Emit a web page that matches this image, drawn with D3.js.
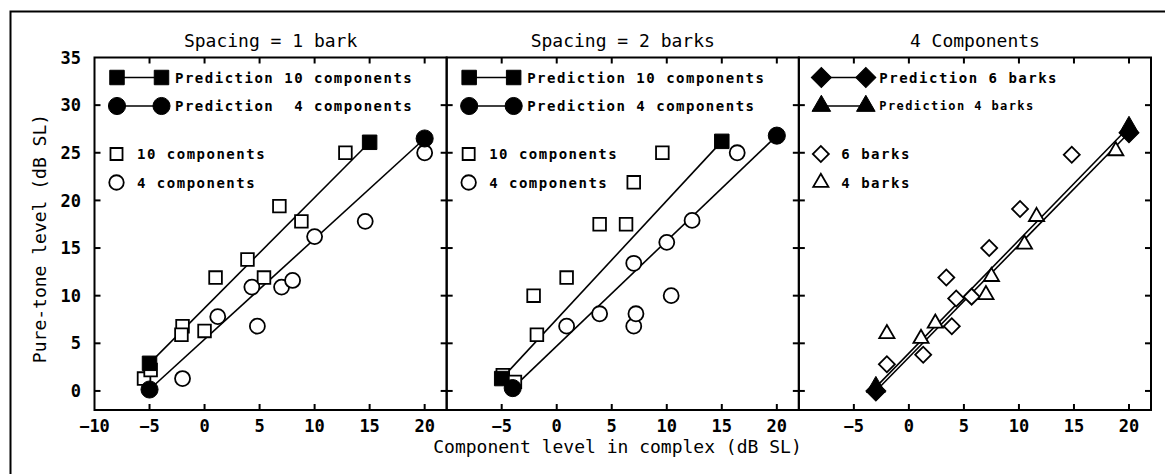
<!DOCTYPE html>
<html>
<head>
<meta charset="utf-8">
<script src="https://cdn.jsdelivr.net/npm/d3@7"></script>
<style>
  body { margin: 0; background: #fff; }
  svg { display: block; }
  text { font-family: "DejaVu Sans Mono", monospace; fill: #000; white-space: pre; }
</style>
</head>
<body>
<div id="chart"></div>
<script>
// panel titles
const titles = ["Spacing = 1 bark", "Spacing = 2 barks", "4 Components"];

// x ticks / y ticks
const xTicks = [-10, -5, 0, 5, 10, 15, 20];
const yTicks = [0, 5, 10, 15, 20, 25, 30, 35];

// panel 1: spacing = 1 bark
const p1Pred10 = [[-5, 2.9], [15, 26.1]];
const p1Pred4 = [[-5, 0.15], [20, 26.5]];
const p1Obs10 = [[-5.5, 1.3], [-4.9, 2.2], [-2, 6.8], [-2.1, 5.9], [0, 6.3], [1, 11.9],
  [3.9, 13.8], [5.4, 11.9], [6.8, 19.4], [8.8, 17.8], [12.8, 25]];
const p1Obs4 = [[-2, 1.3], [1.2, 7.8], [4.3, 10.9], [4.8, 6.8], [7, 10.9], [8, 11.6],
  [10, 16.2], [14.6, 17.8], [20, 25]];

// panel 2: spacing = 2 barks
const p2Pred10 = [[-5, 1.3], [15, 26.2]];
const p2Pred4 = [[-4, 0.3], [20, 26.8]];
const p2Obs10 = [[-4.9, 1.65], [-3.8, 0.95], [-1.8, 5.9], [-2.1, 10], [0.9, 11.9],
  [3.9, 17.5], [6.3, 17.5], [7, 21.9], [9.6, 25]];
const p2Obs4 = [[0.9, 6.8], [3.9, 8.1], [7, 6.8], [7.2, 8.1], [7, 13.4], [10, 15.6],
  [10.4, 10], [12.3, 17.9], [16.4, 25]];

// panel 3: 4 components
const p3Pred6 = [[-3, 0], [20, 27.1]];
const p3Pred4 = [[-3, 0.4], [20, 27.7]];
const p3Obs6 = [[-2, 2.8], [1.3, 3.8], [3.4, 11.9], [3.9, 6.8], [4.3, 9.7], [5.7, 9.9],
  [7.3, 15], [10.1, 19.1], [14.8, 24.8]];
const p3Obs4 = [[-2, 6], [1.1, 5.5], [2.4, 7.1], [7, 10.1], [7.5, 12], [10.5, 15.4],
  [11.6, 18.3], [18.8, 25.2]];

const W = 1165, H = 474;
const plotLeft = 94.5, plotRight = 1151, plotTop = 57.5, plotBottom = 410;
const pw = (plotRight - plotLeft) / 3;

const svg = d3.select("#chart").append("svg").attr("width", W).attr("height", H);

// outer frame (left and top only visible)
svg.append("path").attr("d", `M10.5,${H}V11.5H${W}`)
  .attr("fill", "none").attr("stroke", "#000").attr("stroke-width", 2);

const sym = {
  square: (s) => d3.symbol(d3.symbolSquare, s)(),
  circle: (s) => d3.symbol(d3.symbolCircle, s)(),
  diamond: (s) => d3.symbol(d3.symbolSquare, s)(),
  triangle: (s) => d3.symbol(d3.symbolTriangle, s)()
};

const panels = [
  {
    preds: [{ pts: p1Pred10, shape: "square", size: 210 }, { pts: p1Pred4, shape: "circle", size: 230 }],
    obs: [{ pts: p1Obs10, shape: "square", size: 160 }, { pts: p1Obs4, shape: "circle", size: 177 }],
    legend: [
      { kind: "pred", shape: "square", size: 210, text: "Prediction 10 components" },
      { kind: "pred", shape: "circle", size: 230, text: "Prediction  4 components" },
      { kind: "obs", shape: "square", size: 145, text: "10 components" },
      { kind: "obs", shape: "circle", size: 165, text: "4 components" }
    ]
  },
  {
    preds: [{ pts: p2Pred10, shape: "square", size: 210 }, { pts: p2Pred4, shape: "circle", size: 230 }],
    obs: [{ pts: p2Obs10, shape: "square", size: 160 }, { pts: p2Obs4, shape: "circle", size: 177 }],
    legend: [
      { kind: "pred", shape: "square", size: 210, text: "Prediction 10 components" },
      { kind: "pred", shape: "circle", size: 230, text: "Prediction 4 components" },
      { kind: "obs", shape: "square", size: 145, text: "10 components" },
      { kind: "obs", shape: "circle", size: 165, text: "4 components" }
    ]
  },
  {
    preds: [{ pts: p3Pred4, shape: "triangle", size: 150 }, { pts: p3Pred6, shape: "diamond", size: 200 }],
    obs: [{ pts: p3Obs6, shape: "diamond", size: 128 }, { pts: p3Obs4, shape: "triangle", size: 100 }],
    legend: [
      { kind: "pred", shape: "diamond", size: 200, text: "Prediction 6 barks" },
      { kind: "pred", shape: "triangle", size: 150, text: "Prediction 4 barks", small: true },
      { kind: "obs", shape: "diamond", size: 128, text: "6 barks" },
      { kind: "obs", shape: "triangle", size: 100, text: "4 barks" }
    ]
  }
];

const y = d3.scaleLinear().domain([-2, 35]).range([plotBottom, plotTop]);
const legendY = [77.5, 106, 154, 182.5];

function marker(g, shape, size, filled, cx, cy) {
  g.append("path")
    .attr("d", sym[shape](size))
    .attr("transform", `translate(${cx},${cy})` + (shape === "diamond" ? " rotate(45)" : ""))
    .attr("fill", filled ? "#000" : "#fff")
    .attr("stroke", "#000")
    .attr("stroke-width", filled ? 1 : 1.8);
}

panels.forEach((p, i) => {
  const x0 = plotLeft + i * pw;
  const x = d3.scaleLinear().domain([-10, 22]).range([x0, x0 + pw]);
  const g = svg.append("g");

  // title
  g.append("text").attr("x", x0 + pw / 2).attr("y", 46.5)
    .attr("text-anchor", "middle").attr("font-size", 18).text(titles[i]);

  // ticks: inward on all four sides
  const ticks = g.append("g").attr("stroke", "#000").attr("stroke-width", 2);
  xTicks.filter((t) => t > -10).forEach((t) => {
    ticks.append("line").attr("x1", x(t)).attr("x2", x(t)).attr("y1", plotBottom).attr("y2", plotBottom - 6);
    ticks.append("line").attr("x1", x(t)).attr("x2", x(t)).attr("y1", plotTop).attr("y2", plotTop + 6);
  });
  yTicks.filter((t) => t < 35).forEach((t) => {
    ticks.append("line").attr("x1", x0).attr("x2", x0 + 6).attr("y1", y(t)).attr("y2", y(t));
    ticks.append("line").attr("x1", x0 + pw).attr("x2", x0 + pw - 6).attr("y1", y(t)).attr("y2", y(t));
  });

  // x tick labels
  xTicks.filter((t) => i === 0 || t > -10).forEach((t) => {
    g.append("text").attr("x", x(t)).attr("y", 431.5)
      .attr("text-anchor", "middle").attr("font-size", 17).attr("font-weight", "bold")
      .text(t < 0 ? "\u2212" + Math.abs(t) : t);
  });

  // prediction lines
  p.preds.forEach((s) => {
    g.append("path")
      .attr("d", d3.line().x((d) => x(d[0])).y((d) => y(d[1]))(s.pts))
      .attr("fill", "none").attr("stroke", "#000").attr("stroke-width", 1.6);
  });
  // observed markers
  p.obs.forEach((s) => {
    s.pts.forEach((d) => marker(g, s.shape, s.size, false, x(d[0]), y(d[1])));
  });
  // prediction endpoints
  p.preds.forEach((s) => {
    s.pts.forEach((d) => marker(g, s.shape, s.size, true, x(d[0]), y(d[1])));
  });

  // legend
  p.legend.forEach((l, k) => {
    const ly = legendY[k];
    if (l.kind === "pred") {
      g.append("line").attr("x1", x0 + 22.5).attr("x2", x0 + 67)
        .attr("y1", ly).attr("y2", ly).attr("stroke", "#000").attr("stroke-width", 1.6);
      marker(g, l.shape, l.size, true, x0 + 22.5, ly);
      marker(g, l.shape, l.size, true, x0 + 67, ly);
      g.append("text").attr("x", x0 + 80.5).attr("y", ly).attr("dy", "0.36em")
        .attr("font-size", l.small ? 12 : 14).attr("font-weight", "bold")
        .attr("letter-spacing", l.small ? 1.4 : 1.5).text(l.text);
    } else {
      marker(g, l.shape, l.size, false, x0 + 22, ly);
      g.append("text").attr("x", x0 + 42.5).attr("y", ly).attr("dy", "0.36em")
        .attr("font-size", 14).attr("font-weight", "bold")
        .attr("letter-spacing", 1.5).text(l.text);
    }
  });

  // frame
  g.append("rect").attr("x", x0).attr("y", plotTop).attr("width", pw).attr("height", plotBottom - plotTop)
    .attr("fill", "none").attr("stroke", "#000").attr("stroke-width", 2);
});

// y tick labels (first panel only)
yTicks.forEach((t) => {
  svg.append("text").attr("x", 81).attr("y", y(t)).attr("dy", "0.36em")
    .attr("text-anchor", "end").attr("font-size", 17).attr("font-weight", "bold").text(t);
});

// axis labels
svg.append("text").attr("x", 617.5).attr("y", 452.5).attr("text-anchor", "middle")
  .attr("font-size", 18).text("Component level in complex (dB SL)");
svg.append("text").attr("transform", "translate(46,238.5) rotate(-90)")
  .attr("text-anchor", "middle").attr("font-size", 18).text("Pure-tone level (dB SL)");
</script>
</body>
</html>
